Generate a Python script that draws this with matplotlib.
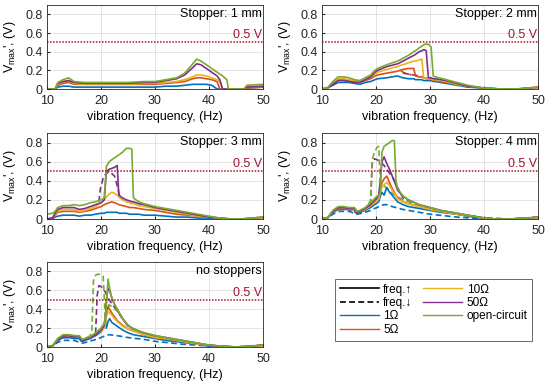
import matplotlib
matplotlib.use("Agg")
import matplotlib.pyplot as plt
from matplotlib.lines import Line2D

plt.rcParams['font.family'] = ['Liberation Sans', 'DejaVu Sans']
plt.rcParams['mathtext.fontset'] = 'custom'
plt.rcParams['mathtext.rm'] = 'Liberation Sans'

# ---------------- data ----------------
loads = ['1Ω', '5Ω', '10Ω', '50Ω', 'open-circuit']
colors = ['#0072BD', '#D95319', '#EDB120', '#7E2F8E', '#77AC30']
titles = ['Stopper: 1 mm', 'Stopper: 2 mm', 'Stopper: 3 mm', 'Stopper: 4 mm', 'no stoppers']
x_ticks = [10, 20, 30, 40, 50]
y_ticks = [0, 0.2, 0.4, 0.6, 0.8]
threshold = 0.5

# Panel 1: stopper 1 mm (frequency up-sweep)
f1 = [10, 11.5, 12, 13, 14, 15, 17, 20, 22, 25, 28, 30, 32, 34, 35.5, 37, 37.7, 38.5, 39.5,
      40.5, 41.5, 42.0, 42.5, 43.3, 43.6, 45, 46.5, 47, 50]
p1_1 = [0, 0, 0.02, 0.03, 0.03, 0.02, 0.02, 0.02, 0.02, 0.02, 0.02, 0.02, 0.03, 0.03, 0.04, 0.05,
        0.05, 0.05, 0.05, 0.04, 0.0, 0, 0, 0, 0, 0, 0, 0.01, 0.02]
p1_5 = [0, 0, 0.04, 0.06, 0.07, 0.05, 0.05, 0.05, 0.05, 0.05, 0.05, 0.05, 0.06, 0.07, 0.08, 0.11,
        0.12, 0.12, 0.11, 0.10, 0.08, 0.0, 0, 0, 0, 0, 0, 0.01, 0.02]
p1_10 = [0, 0, 0.05, 0.08, 0.09, 0.06, 0.05, 0.05, 0.05, 0.05, 0.06, 0.06, 0.07, 0.08, 0.10, 0.13,
         0.15, 0.15, 0.14, 0.12, 0.10, 0.08, 0.0, 0, 0, 0, 0, 0.02, 0.03]
p1_50 = [0, 0, 0.06, 0.08, 0.09, 0.07, 0.06, 0.06, 0.06, 0.06, 0.07, 0.07, 0.09, 0.11, 0.15, 0.23,
         0.27, 0.26, 0.22, 0.18, 0.14, 0.10, 0.0, 0, 0, 0, 0, 0.02, 0.03]
p1_oc = [0, 0, 0.07, 0.10, 0.12, 0.08, 0.07, 0.07, 0.07, 0.07, 0.08, 0.08, 0.10, 0.12, 0.17, 0.27,
         0.32, 0.30, 0.26, 0.22, 0.18, 0.16, 0.14, 0.10, 0.0, 0, 0, 0.04, 0.05]

# Panel 2: stopper 2 mm
f2 = [10, 11, 12, 13, 14, 15, 16, 17, 18, 19, 19.8, 20.3, 22, 24, 24.4, 25, 26, 27, 27.3, 28,
      28.5, 28.8, 29, 29.3, 29.7, 30.2, 30.6, 31, 33, 35, 37, 40, 43, 46, 50]
p2_1 = [0, 0.01, 0.04, 0.07, 0.07, 0.07, 0.06, 0.05, 0.07, 0.08, 0.10, 0.11, 0.12, 0.14, 0.13,
        0.12, 0.11, 0.11, 0.10, 0.10, 0.10, 0.09, 0.09, 0.09, 0.09, 0.09, 0.08, 0.08, 0.06, 0.04,
        0.02, 0.01, 0, 0, 0.01]
p2_5 = [0, 0.01, 0.06, 0.10, 0.10, 0.09, 0.08, 0.07, 0.09, 0.11, 0.14, 0.15, 0.17, 0.19, 0.20,
        0.21, 0.22, 0.22, 0.14, 0.13, 0.13, 0.12, 0.12, 0.11, 0.11, 0.10, 0.10, 0.09, 0.07, 0.05,
        0.03, 0.01, 0, 0, 0.01]
p2_10 = [0, 0.01, 0.07, 0.11, 0.11, 0.10, 0.09, 0.08, 0.10, 0.13, 0.16, 0.18, 0.21, 0.24, 0.25,
         0.26, 0.28, 0.30, 0.30, 0.31, 0.32, 0.13, 0.12, 0.12, 0.11, 0.11, 0.10, 0.10, 0.08, 0.05,
         0.03, 0.01, 0, 0, 0.01]
p2_50 = [0, 0.01, 0.05, 0.09, 0.09, 0.08, 0.07, 0.07, 0.10, 0.13, 0.18, 0.20, 0.24, 0.27, 0.28,
         0.30, 0.33, 0.36, 0.37, 0.40, 0.41, 0.42, 0.42, 0.41, 0.12, 0.12, 0.11, 0.11, 0.09, 0.06,
         0.03, 0.01, 0, 0, 0.02]
p2_oc = [0, 0.01, 0.08, 0.13, 0.13, 0.12, 0.10, 0.09, 0.12, 0.15, 0.20, 0.22, 0.26, 0.30, 0.31,
         0.33, 0.36, 0.40, 0.41, 0.44, 0.46, 0.47, 0.48, 0.48, 0.48, 0.45, 0.14, 0.13, 0.10, 0.07,
         0.04, 0.01, 0, 0, 0.02]
# Panel 2 down-sweep fragments
f2d_5 = [24.5, 25, 26, 26.6]
p2d_5 = [0.20, 0.18, 0.16, 0.15]
f2d_50 = [25, 26, 27, 28]
p2d_50 = [0.17, 0.16, 0.15, 0.14]

# Panel 3: stopper 3 mm
f3 = [10, 11, 11.5, 12, 13, 14, 15, 16, 17, 18, 19, 20, 20.6, 21.0, 21.5, 22, 22.5, 23.0, 23.3,
      24, 24.7, 25.3, 25.7, 26, 27, 28, 30, 32, 34, 36, 38, 40, 42, 44, 46, 48, 50]
p3_1 = [0, 0, 0.02, 0.03, 0.04, 0.04, 0.04, 0.03, 0.04, 0.04, 0.05, 0.06, 0.06, 0.07, 0.07, 0.07,
        0.07, 0.07, 0.06, 0.06, 0.06, 0.05, 0.05, 0.05, 0.05, 0.04, 0.04, 0.03, 0.02, 0.02, 0.01,
        0.01, 0, 0, 0, 0, 0]
p3_5 = [0, 0.01, 0.04, 0.07, 0.08, 0.08, 0.08, 0.07, 0.08, 0.09, 0.11, 0.13, 0.15, 0.16, 0.17,
        0.18, 0.17, 0.16, 0.15, 0.14, 0.13, 0.12, 0.12, 0.12, 0.11, 0.10, 0.09, 0.07, 0.05, 0.04,
        0.03, 0.02, 0.01, 0, 0, 0, 0.01]
p3_10 = [0, 0.01, 0.05, 0.08, 0.10, 0.10, 0.10, 0.08, 0.09, 0.11, 0.13, 0.17, 0.20, 0.23, 0.26,
         0.28, 0.27, 0.25, 0.23, 0.20, 0.18, 0.17, 0.16, 0.16, 0.14, 0.13, 0.11, 0.09, 0.07, 0.05,
         0.03, 0.02, 0.01, 0, 0, 0.01, 0.01]
p3_50 = [0, 0.01, 0.06, 0.10, 0.12, 0.12, 0.12, 0.10, 0.11, 0.13, 0.15, 0.17, 0.20, 0.50, 0.52,
         0.53, 0.54, 0.56, 0.25, 0.22, 0.20, 0.19, 0.18, 0.18, 0.16, 0.15, 0.12, 0.10, 0.08, 0.06,
         0.04, 0.02, 0.01, 0, 0, 0.01, 0.02]
p3_oc = [0.05, 0.06, 0.08, 0.12, 0.14, 0.14, 0.15, 0.14, 0.15, 0.17, 0.18, 0.20, 0.22, 0.55, 0.60,
         0.62, 0.64, 0.66, 0.67, 0.70, 0.74, 0.74, 0.73, 0.22, 0.18, 0.16, 0.13, 0.11, 0.09, 0.07,
         0.05, 0.03, 0.01, 0, 0, 0.01, 0.02]
f3d_50 = [19.6, 19.9, 20.5, 21.5, 22.5, 23.0, 23.4]
p3d_50 = [0.18, 0.32, 0.45, 0.50, 0.45, 0.35, 0.25]

# Panel 4: stopper 4 mm
f4 = [10, 11, 12, 13, 14, 15, 16, 16.5, 17, 18, 19, 19.5, 20, 20.5, 20.8, 21.1, 21.5, 22, 22.5,
      23, 23.4, 23.7, 24, 25, 26, 28, 30, 32, 35, 38, 40, 42, 45, 48, 50]
p4_1 = [0, 0.01, 0.07, 0.10, 0.10, 0.10, 0.10, 0.06, 0.07, 0.09, 0.12, 0.14, 0.16, 0.18, 0.24,
        0.28, 0.25, 0.33, 0.28, 0.25, 0.22, 0.20, 0.18, 0.15, 0.13, 0.11, 0.09, 0.07, 0.05, 0.02,
        0.01, 0, 0, 0, 0.01]
p4_5 = [0, 0.01, 0.07, 0.11, 0.11, 0.10, 0.10, 0.07, 0.08, 0.10, 0.14, 0.16, 0.19, 0.22, 0.30,
        0.38, 0.42, 0.45, 0.38, 0.32, 0.28, 0.25, 0.22, 0.18, 0.16, 0.13, 0.10, 0.08, 0.05, 0.03,
        0.01, 0, 0, 0.01, 0.01]
p4_10 = [0, 0.01, 0.08, 0.12, 0.12, 0.11, 0.11, 0.07, 0.08, 0.10, 0.14, 0.16, 0.18, 0.21, 0.27,
         0.33, 0.36, 0.38, 0.35, 0.30, 0.27, 0.24, 0.21, 0.18, 0.16, 0.13, 0.10, 0.08, 0.05, 0.03,
         0.01, 0, 0, 0.01, 0.01]
p4_50 = [0, 0.01, 0.08, 0.12, 0.12, 0.11, 0.11, 0.07, 0.08, 0.11, 0.15, 0.18, 0.21, 0.25, 0.40,
         0.60, 0.65, 0.58, 0.52, 0.45, 0.40, 0.35, 0.30, 0.24, 0.20, 0.15, 0.12, 0.09, 0.06, 0.03,
         0.01, 0, 0, 0.01, 0.02]
p4_oc = [0, 0.01, 0.09, 0.13, 0.13, 0.12, 0.12, 0.08, 0.09, 0.12, 0.17, 0.20, 0.23, 0.25, 0.27,
         0.70, 0.76, 0.78, 0.80, 0.82, 0.82, 0.40, 0.32, 0.24, 0.20, 0.15, 0.12, 0.09, 0.06, 0.03,
         0.01, 0, 0, 0.01, 0.02]
f4d = [10, 11, 12, 13, 15, 16.5, 18, 19, 19.3, 19.7, 20.2, 20.5, 20.8, 21.5, 22, 23, 25, 28, 30,
       35, 40, 45, 50]
p4d_1 = [0, 0.01, 0.05, 0.08, 0.08, 0.05, 0.07, 0.09, 0.10, 0.11, 0.12, 0.13, 0.14, 0.15, 0.15,
         0.13, 0.10, 0.07, 0.05, 0.02, 0, 0, 0.01]
p4d_50 = [0, 0.01, 0.07, 0.11, 0.10, 0.06, 0.10, 0.17, 0.58, 0.63, 0.62, 0.61, 0.60, 0.56, 0.52,
          0.44, 0.22, 0.14, 0.11, 0.05, 0.01, 0, 0.02]
p4d_oc = [0, 0.01, 0.08, 0.12, 0.11, 0.07, 0.11, 0.19, 0.62, 0.70, 0.75, 0.76, 0.40, 0.35, 0.32,
          0.27, 0.20, 0.14, 0.11, 0.05, 0.01, 0, 0.02]

# Panel 5: no stoppers
f5 = [10, 11, 12, 13, 14, 15, 16, 16.5, 17, 18, 19, 20, 20.5, 20.8, 21.0, 21.3, 21.6, 22, 22.5,
      23, 24, 25, 26, 28, 30, 32, 35, 38, 40, 42, 45, 48, 50]
p5_1 = [0, 0.01, 0.07, 0.10, 0.10, 0.09, 0.09, 0.06, 0.07, 0.09, 0.12, 0.16, 0.20, 0.28, 0.20,
        0.27, 0.30, 0.26, 0.24, 0.22, 0.18, 0.15, 0.13, 0.11, 0.09, 0.07, 0.05, 0.03, 0.01, 0, 0,
        0, 0.01]
p5_5 = [0, 0.01, 0.08, 0.12, 0.12, 0.11, 0.11, 0.07, 0.08, 0.10, 0.13, 0.17, 0.20, 0.25, 0.35,
        0.43, 0.40, 0.36, 0.32, 0.28, 0.23, 0.19, 0.17, 0.13, 0.10, 0.09, 0.06, 0.03, 0.02, 0.01,
        0, 0, 0.01]
p5_10 = [0, 0.01, 0.09, 0.13, 0.13, 0.12, 0.11, 0.08, 0.09, 0.11, 0.14, 0.17, 0.20, 0.24, 0.32,
         0.38, 0.36, 0.34, 0.30, 0.27, 0.22, 0.19, 0.17, 0.13, 0.10, 0.09, 0.06, 0.03, 0.02, 0.01,
         0, 0, 0.01]
p5_50 = [0, 0.01, 0.08, 0.12, 0.12, 0.11, 0.11, 0.07, 0.08, 0.10, 0.13, 0.18, 0.22, 0.30, 0.50,
         0.62, 0.60, 0.52, 0.45, 0.40, 0.30, 0.23, 0.19, 0.15, 0.12, 0.10, 0.07, 0.04, 0.02, 0.01,
         0, 0.01, 0.02]
p5_oc = [0, 0.01, 0.09, 0.13, 0.13, 0.12, 0.12, 0.08, 0.09, 0.11, 0.15, 0.20, 0.24, 0.30, 0.45,
         0.72, 0.62, 0.52, 0.45, 0.40, 0.30, 0.23, 0.19, 0.15, 0.12, 0.10, 0.07, 0.04, 0.02, 0.01,
         0, 0.01, 0.02]
f5d = [10, 11, 12, 13, 15, 16.5, 18, 18.3, 18.6, 19, 19.3, 19.6, 20, 20.4, 20.8, 21.5, 23, 25,
       28, 30, 35, 40, 45, 50]
p5d_1 = [0, 0.01, 0.05, 0.07, 0.07, 0.04, 0.06, 0.07, 0.07, 0.08, 0.08, 0.09, 0.10, 0.11, 0.12,
         0.13, 0.12, 0.10, 0.08, 0.06, 0.03, 0.01, 0, 0.01]
p5d_50 = [0, 0.01, 0.07, 0.10, 0.10, 0.06, 0.10, 0.11, 0.12, 0.15, 0.55, 0.65, 0.64, 0.62, 0.58,
          0.50, 0.38, 0.22, 0.14, 0.11, 0.06, 0.01, 0, 0.02]
p5d_oc = [0, 0.01, 0.08, 0.12, 0.11, 0.07, 0.12, 0.15, 0.70, 0.76, 0.77, 0.77, 0.77, 0.75, 0.30,
          0.45, 0.38, 0.22, 0.14, 0.11, 0.06, 0.01, 0, 0.02]

panels = [
    (f1, [p1_1, p1_5, p1_10, p1_50, p1_oc], []),
    (f2, [p2_1, p2_5, p2_10, p2_50, p2_oc], [(f2d_5, p2d_5, 1), (f2d_50, p2d_50, 3)]),
    (f3, [p3_1, p3_5, p3_10, p3_50, p3_oc], [(f3d_50, p3d_50, 3)]),
    (f4, [p4_1, p4_5, p4_10, p4_50, p4_oc], [(f4d, p4d_1, 0), (f4d, p4d_50, 3), (f4d, p4d_oc, 4)]),
    (f5, [p5_1, p5_5, p5_10, p5_50, p5_oc], [(f5d, p5d_1, 0), (f5d, p5d_50, 3), (f5d, p5d_oc, 4)]),
]

# ---------------- layout ----------------
fig = plt.figure(figsize=(5.5, 3.87), dpi=100)
W, H = 550, 387
boxes = [(47, 5, 263, 89), (322, 5, 538, 89),
         (47, 133, 263, 219), (322, 133, 538, 219),
         (47, 262, 263, 347)]
red = '#A2142F'
FS = 9

for (x0, y0, x1, y1), (f, series, downs), title in zip(boxes, panels, titles):
    ax = fig.add_axes([x0 / W, 1 - y1 / H, (x1 - x0) / W, (y1 - y0) / H])
    for (fd, vd, ci) in downs:
        ax.plot(fd, vd, color=colors[ci], lw=1.2, ls=(0, (3.5, 2)))
    for vals, c in zip(series, colors):
        ax.plot(f, vals, color=c, lw=1.2)
    ax.axhline(threshold, color=red, lw=1.1, ls=(0, (1, 1)))
    ax.text(49.8, threshold + 0.01, '0.5 V', color=red, fontsize=FS, ha='right', va='bottom')
    ax.text(49.8, 0.87, title, color='black', fontsize=FS, ha='right', va='top')
    ax.set_xlim(10, 50)
    ax.set_ylim(0, 0.9)
    ax.set_xticks(x_ticks)
    ax.set_yticks(y_ticks)
    ax.set_yticklabels(['0', '0.2', '0.4', '0.6', '0.8'])
    ax.grid(True, color='#DFDFDF', lw=0.6)
    ax.set_axisbelow(True)
    ax.tick_params(direction='in', labelsize=FS, length=2.5, colors='#262626')
    ax.tick_params(axis='x', pad=4)
    ax.tick_params(axis='y', pad=3)
    for s in ax.spines.values():
        s.set_color('#262626')
        s.set_linewidth(0.6)
    ax.set_xlabel('vibration frequency, (Hz)', fontsize=FS, labelpad=3)
    ax.set_ylabel("V$_{\\mathregular{max}}$', (V)", fontsize=FS)
    ax.yaxis.set_label_coords(-0.135, 0.5)

handles = [Line2D([], [], color='black', lw=1.2, ls='-'),
           Line2D([], [], color='black', lw=1.2, ls=(0, (3.5, 2))),
           Line2D([], [], color=colors[0], lw=1.0),
           Line2D([], [], color=colors[1], lw=1.0),
           Line2D([], [], color=colors[2], lw=1.0),
           Line2D([], [], color=colors[3], lw=1.0),
           Line2D([], [], color=colors[4], lw=1.0)]
labels = ['freq.↑', 'freq.↓', loads[0], loads[1], loads[2], loads[3], loads[4]]
leg = fig.legend(handles, labels, ncol=2, loc='upper left',
                 bbox_to_anchor=(329 / W, 1 - 273 / H), fontsize=8.5, frameon=True,
                 fancybox=False, edgecolor='#262626', handlelength=3.3, handletextpad=0.4,
                 columnspacing=0.9, labelspacing=0.12, borderpad=0.4)
leg.get_frame().set_linewidth(0.6)

fig.savefig('out.png', dpi=100)
